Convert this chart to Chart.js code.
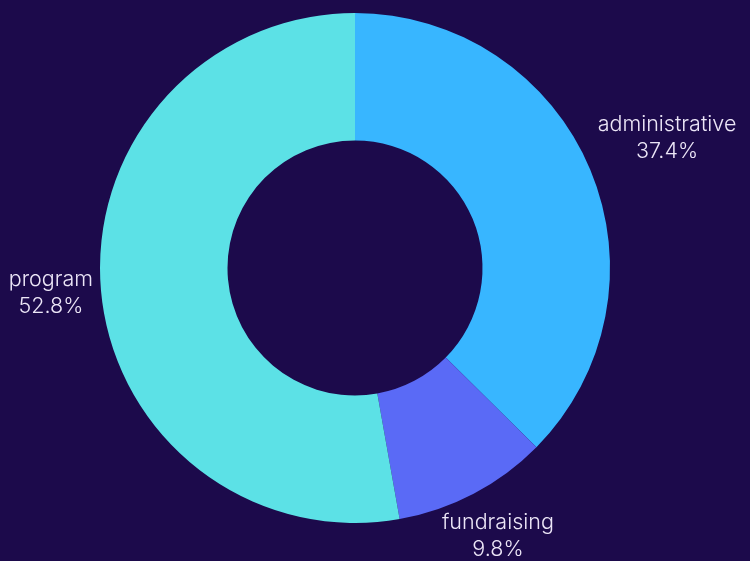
<!DOCTYPE html>
<html>
<head>
<meta charset="utf-8">
<script src="https://cdn.jsdelivr.net/npm/chart.js@4"></script>
<style>
  html, body { margin: 0; padding: 0; background: #1c0a4b; }
  #wrap { width: 750px; height: 561px; position: relative; }
</style>
</head>
<body>
<div id="wrap"><canvas id="donut"></canvas></div>
<script>
const categories = ['administrative', 'fundraising', 'program'];
const shares = [37.4, 9.8, 52.8];
const colors = ['#38b6ff', '#5a6af6', '#5ce1e6'];

const clamp = v => Math.max(-1, Math.min(1, v));
// eases the shift: small near the axis, full once clearly to one side
const ease = (v, k) => clamp(Math.sign(v) * v * v * k);

// labels outside each slice: name + percent, box pushed away from the ring
const outsideLabels = {
  id: 'outsideLabels',
  afterDatasetsDraw(chart) {
    const ctx = chart.ctx;
    const meta = chart.getDatasetMeta(0);
    ctx.save();
    ctx.font = '300 21.5px Inter, "Noto Sans", sans-serif';
    ctx.fillStyle = '#ece6f7';
    ctx.textAlign = 'center';
    ctx.textBaseline = 'middle';
    const lineH = 27;
    meta.data.forEach((arc, i) => {
      const { x, y, startAngle, endAngle, outerRadius } = arc.getProps(['x', 'y', 'startAngle', 'endAngle', 'outerRadius'], true);
      const mid = (startAngle + endAngle) / 2;
      const r = outerRadius + 8;
      const ax = x + Math.cos(mid) * r;
      const ay = y + Math.sin(mid) * r;
      const name = categories[i];
      const pct = shares[i].toFixed(1) + '%';
      const w = Math.max(ctx.measureText(name).width, ctx.measureText(pct).width);
      const cx = ax + ease(Math.cos(mid), 1.7) * w / 2;
      const cy = ay + ease(Math.sin(mid), 5.4) * 35.5;
      ctx.fillText(name, cx, cy - lineH / 2);
      ctx.fillText(pct, cx, cy + lineH / 2);
    });
    ctx.restore();
  }
};

new Chart(document.getElementById('donut'), {
  type: 'doughnut',
  data: {
    labels: categories,
    datasets: [{
      data: shares,
      backgroundColor: colors,
      borderWidth: 0,
    }],
  },
  options: {
    responsive: true,
    maintainAspectRatio: false,
    animation: false,
    cutout: '50%',
    layout: { padding: { left: 100, right: 140, top: 13, bottom: 38 } },
    plugins: {
      legend: { display: false },
      tooltip: { enabled: false },
    },
  },
  plugins: [outsideLabels],
});
</script>
</body>
</html>
